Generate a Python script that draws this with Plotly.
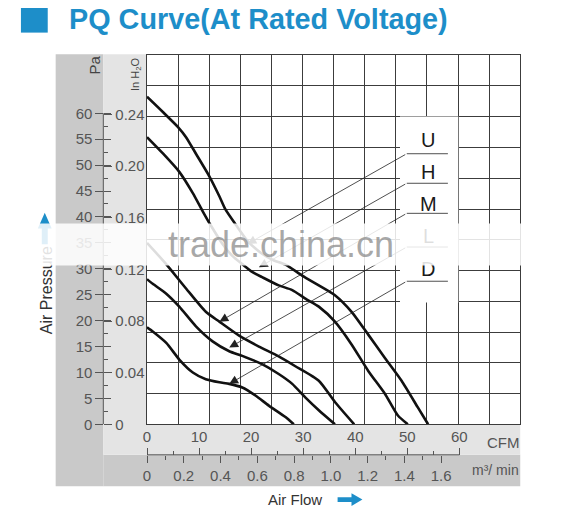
import plotly.graph_objects as go

# PQ curves: air flow (CFM) vs static pressure (Pa)
u_cfm = [0, 3.1, 6.0, 7.5, 9.4, 12.0, 13.9, 15.1, 17.2, 19.3, 22.1, 24.4, 26.6, 29.8, 33.0, 36.1, 39.3, 42.5, 45.7, 48.9, 52.0, 54.0]
u_pa = [63.2, 60.2, 57.3, 55.4, 52.2, 47.8, 44.0, 41.4, 38.3, 35.4, 32.9, 31.6, 30.8, 28.7, 26.8, 24.9, 21.7, 17.3, 12.8, 8.4, 3.3, 0]

h_cfm = [0, 3.1, 6.2, 8.8, 10.7, 12.3, 14.5, 16.4, 18.3, 20.2, 22.1, 25.3, 27.9, 30.5, 33.0, 36.1, 39.3, 42.5, 45.7, 48.2, 50.1]
h_pa = [55.4, 52.2, 48.7, 44.6, 41.1, 38.3, 34.8, 32.5, 30.9, 29.4, 28.4, 26.8, 25.9, 24.2, 22.7, 19.8, 15.4, 10.3, 5.9, 1.7, 0]

m_cfm = [0, 3.6, 7.5, 11.3, 13.9, 17.7, 21.5, 25.3, 28.5, 33.0, 36.1, 39.8]
m_pa = [35.0, 31.0, 26.2, 21.7, 19.8, 17.1, 15.0, 13.1, 11.2, 8.4, 4.3, 0]

l_cfm = [0, 1.1, 3.7, 6.2, 9.4, 12.6, 15.8, 18.3, 22.1, 25.3, 27.9, 30.4, 33.0, 36.1]
l_pa = [28.0, 27.1, 25.2, 22.7, 18.9, 16.0, 14.1, 13.2, 11.6, 9.7, 7.8, 5.2, 2.7, 0]

d_cfm = [0, 1.1, 3.7, 6.2, 8.8, 11.3, 13.9, 15.8, 18.3, 20.9, 23.4, 26.6, 28.2]
d_pa = [18.7, 17.9, 15.7, 12.5, 10.0, 8.7, 8.1, 7.8, 7.1, 5.5, 3.6, 1.4, 0]

speed_names = ["U", "H", "M", "L", "D"]

# axis scales
pa_ticks = list(range(0, 61, 5))
inh2o_ticks = [0, 0.04, 0.08, 0.12, 0.16, 0.20, 0.24]
inh2o_text = ["0", "0.04", "0.08", "0.12", "0.16", "0.20", "0.24"]
cfm_ticks = [0, 10, 20, 30, 40, 50, 60]
m3_ticks = [0, 0.2, 0.4, 0.6, 0.8, 1.0, 1.2, 1.4, 1.6]
m3_text = ["0", "0.2", "0.4", "0.6", "0.8", "1.0", "1.2", "1.4", "1.6"]

PA_PER_INH2O = 249.089
CFM_PER_M3MIN = 35.3147
X_MAX = 71.7
Y_MAX = 71.2

# the page body has an 8px margin: size the figure so the page does not overflow
OFF = 8
W, H = 562 - 2 * OFF, 521 - 2 * OFF
BLUE = "#1d8ec9"
TICK = "#555555"
GRID = "#3c3c3c"
FONT = "Liberation Sans"


def px(x):
    return (x - OFF) / W


def py(y):
    return 1 - (y - OFF) / H


fig = go.Figure()

series = [(u_cfm, u_pa), (h_cfm, h_pa), (m_cfm, m_pa), (l_cfm, l_pa), (d_cfm, d_pa)]
for (cfm, pa), name in zip(series, speed_names):
    fig.add_trace(go.Scatter(
        x=cfm, y=pa, mode="lines", name=name,
        line=dict(color="#111111", width=2.6, shape="spline", smoothing=0.6),
        hoverinfo="skip", showlegend=False))

# empty traces so the extra scales get drawn
for xa, ya in [("x", "y2"), ("x", "y3"), ("x", "y4"), ("x2", "y"), ("x3", "y")]:
    fig.add_trace(go.Scatter(x=[None], y=[None], xaxis=xa, yaxis=ya, mode="lines",
                             showlegend=False, hoverinfo="skip"))

grid_x = [X_MAX * k / 12 for k in range(13)]
grid_y = [Y_MAX * k / 12 for k in range(13)]

fig.update_layout(
    width=W, height=H,
    margin=dict(l=0, r=0, t=0, b=0),
    paper_bgcolor="white", plot_bgcolor="white",
    hovermode=False,
    font=dict(family=FONT, color=TICK),
    xaxis=dict(domain=[px(144), px(520)], range=[0, X_MAX], tickvals=grid_x,
               showticklabels=False, ticks="", showgrid=True, gridcolor=GRID,
               gridwidth=1, zeroline=False, showline=True, mirror=True,
               linecolor=GRID, linewidth=1),
    yaxis=dict(domain=[py(431), py(56)], range=[0, Y_MAX], tickvals=grid_y,
               showticklabels=False, ticks="", showgrid=True, gridcolor=GRID,
               gridwidth=1, zeroline=False, showline=True, mirror=True,
               linecolor=GRID, linewidth=1),
    # Pa scale, labels on the left
    yaxis2=dict(overlaying="y", anchor="free", position=px(100), side="left",
                range=[0, Y_MAX], tickvals=pa_ticks, ticks="outside", ticklen=8,
                tickcolor=TICK, showgrid=False, zeroline=False, showline=False,
                tickfont=dict(size=15, color=TICK)),
    # Pa scale, short ticks on the right
    yaxis3=dict(overlaying="y", anchor="free", position=px(100), side="right",
                range=[0, Y_MAX], tickvals=pa_ticks, ticks="outside", ticklen=7,
                tickcolor=TICK, showticklabels=False, showgrid=False,
                zeroline=False, showline=False,
                minor=dict(tickvals=[p + 2.5 for p in pa_ticks[:-1]], ticks="outside",
                           ticklen=4, tickcolor=TICK, showgrid=False)),
    # inH2O scale
    yaxis4=dict(overlaying="y", anchor="free", position=px(100), side="right",
                range=[0, Y_MAX / PA_PER_INH2O], tickvals=inh2o_ticks,
                ticktext=inh2o_text, ticks="outside", ticklen=8, tickcolor=TICK,
                showgrid=False, zeroline=False, showline=False,
                tickfont=dict(size=15, color=TICK)),
    # CFM scale
    xaxis2=dict(overlaying="x", anchor="free", position=py(462), side="top",
                range=[0, X_MAX], tickvals=cfm_ticks, ticks="outside", ticklen=7,
                tickcolor=TICK, showgrid=False, zeroline=False, showline=False,
                tickfont=dict(size=15, color=TICK),
                minor=dict(tickvals=[c + 5 for c in cfm_ticks[:-1]], ticks="outside",
                           ticklen=4, tickcolor=TICK, showgrid=False)),
    # m3/min scale
    xaxis3=dict(overlaying="x", anchor="free", position=py(462), side="bottom",
                range=[0, X_MAX / CFM_PER_M3MIN], tickvals=m3_ticks, ticktext=m3_text,
                ticks="outside", ticklen=7, tickcolor=TICK, showgrid=False,
                zeroline=False, showline=False, tickfont=dict(size=15, color=TICK),
                minor=dict(tickvals=[m + 0.1 for m in m3_ticks[:-1]], ticks="outside",
                           ticklen=4, tickcolor=TICK, showgrid=False)),
)

shapes = [
    # grey frames around the grid
    dict(type="rect", xref="paper", yref="paper", x0=px(52), x1=px(100), y0=py(494), y1=py(55),
         fillcolor="#c9c9c9", line_width=0, layer="below"),
    dict(type="rect", xref="paper", yref="paper", x0=px(100), x1=px(520), y0=py(494), y1=py(462),
         fillcolor="#c9c9c9", line_width=0, layer="below"),
    dict(type="rect", xref="paper", yref="paper", x0=px(100), x1=px(144), y0=py(462), y1=py(55),
         fillcolor="#e4e4e4", line_width=0, layer="below"),
    dict(type="rect", xref="paper", yref="paper", x0=px(144), x1=px(520), y0=py(462), y1=py(431),
         fillcolor="#e4e4e4", line_width=0, layer="below"),
    # scale lines
    dict(type="line", xref="paper", yref="y", x0=px(100), x1=px(100), y0=0, y1=60,
         line=dict(color=TICK, width=1)),
    dict(type="line", xref="x", yref="paper", x0=0, x1=60, y0=py(462), y1=py(462),
         line=dict(color=TICK, width=1)),
    # white box behind the speed labels
    dict(type="rect", xref="x", yref="y", x0=48.6, x1=59.8, y0=23.5, y1=59.4,
         fillcolor="white", line_width=0, layer="between"),
    # title square
    dict(type="rect", xref="paper", yref="paper", x0=px(17), x1=px(44), y0=py(33), y1=py(8),
         fillcolor=BLUE, line_width=0),
    # blue arrows
    dict(type="path", xref="paper", yref="paper", fillcolor=BLUE, line_width=0,
         path=f"M{px(34)},{py(232)} L{px(41)},{py(216)} L{px(48)},{py(232)} L{px(44)},{py(232)} "
              f"L{px(44)},{py(248)} L{px(38)},{py(248)} L{px(38)},{py(232)} Z"),
    dict(type="path", xref="paper", yref="paper", fillcolor=BLUE, line_width=0,
         path=f"M{px(336)},{py(505)} L{px(350)},{py(505)} L{px(350)},{py(501)} L{px(361)},{py(507.5)} "
              f"L{px(350)},{py(514)} L{px(350)},{py(510)} L{px(336)},{py(510)} Z"),
]

# speed labels: text height, underline height, arrow tip (CFM, Pa)
label_text_y = [54.8, 48.7, 42.5, 36.4, 29.9]
label_line_y = [52.2, 46.5, 40.7, 34.2, 27.6]
label_tips = [(19.3, 34.8), (21.5, 30.3), (13.9, 19.8), (15.8, 14.8), (15.8, 7.8)]


def note(text, x, y, size, color="#444", angle=0):
    return dict(text=text, xref="paper", yref="paper", x=px(x), y=py(y), textangle=angle,
                xanchor="center", yanchor="middle", showarrow=False,
                font=dict(size=size, color=color))


annotations = [
    dict(text="<b>PQ Curve(At Rated Voltage)</b>", xref="paper", yref="paper",
         x=px(64), y=py(19), xanchor="left", yanchor="middle", showarrow=False,
         borderpad=0, font=dict(size=28.8, color=BLUE, family=FONT)),
    note("Pa", 91, 66, 15, angle=-90),
    note("In H<sub>2</sub>O", 133, 76, 11, angle=-90),
    note("CFM", 503, 449, 15, TICK),
    note("m³/ min", 495, 477, 14, TICK),
    note("Air Flow", 293, 507, 15, "#333"),
    note("Air Pressure", 43, 295, 16, "#333", angle=-90),
]

for name, ty, ly, (tx, tp) in zip(speed_names, label_text_y, label_line_y, label_tips):
    shapes.append(dict(type="line", xref="x", yref="y", x0=49.9, x1=57.8, y0=ly, y1=ly,
                       line=dict(color="#222", width=0.8)))
    annotations.append(dict(text=name, xref="x", yref="y", x=54.0, y=ty, showarrow=False,
                            xanchor="center", yanchor="middle",
                            font=dict(size=20, color="#1a1a1a")))
    annotations.append(dict(text="", xref="x", yref="y", axref="x", ayref="y",
                            x=tx, y=tp, ax=49.9, ay=ly, showarrow=True, arrowhead=2,
                            arrowsize=2.2, arrowwidth=0.8, arrowcolor="#222", standoff=0))

# site watermark band across the chart
annotations.append(dict(text="trade.china.cn", xref="paper", yref="paper",
                        x=px(279), y=py(248), xanchor="center", yanchor="middle",
                        width=500, height=39, showarrow=False,
                        bgcolor="rgba(255,255,255,0.86)",
                        font=dict(size=36, color="rgba(140,140,140,0.75)", family=FONT)))

fig.update_layout(shapes=shapes, annotations=annotations)

fig.write_html("out.html")
